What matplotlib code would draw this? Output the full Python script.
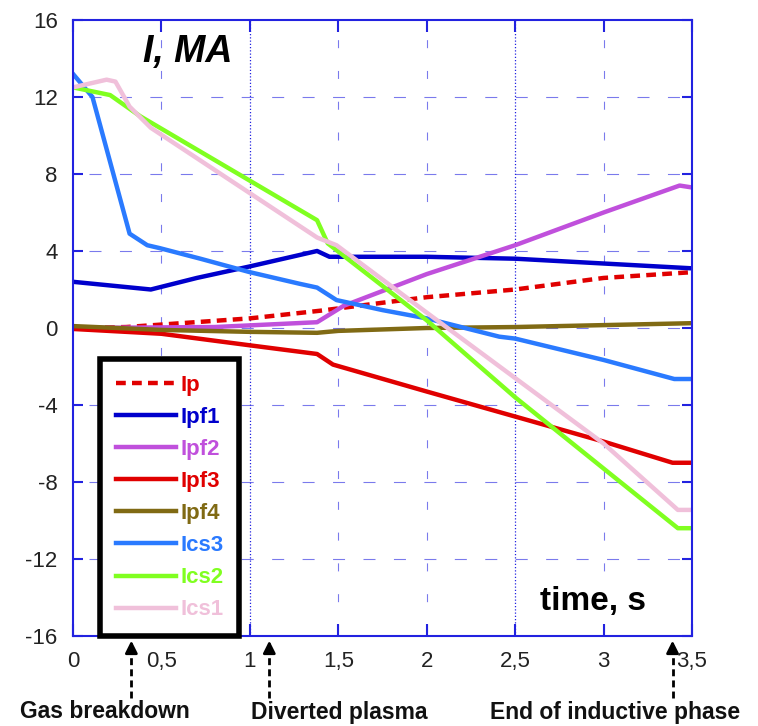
import matplotlib
matplotlib.use("Agg")
import matplotlib.pyplot as plt

plt.rcParams['font.family'] = ['Liberation Sans', 'DejaVu Sans']

# ---- data ----
t_ip = [0, 0.3, 1.0, 1.4, 1.74, 2.0, 2.5, 3.0, 3.5]
ip = [0, 0.05, 0.5, 0.9, 1.3, 1.6, 2.0, 2.6, 2.9]

t_pf1 = [0, 0.44, 0.7, 1.0, 1.38, 1.45, 2.0, 2.5, 3.0, 3.5]
ipf1 = [2.4, 2.0, 2.6, 3.2, 4.0, 3.7, 3.7, 3.6, 3.35, 3.1]

t_pf2 = [0, 0.8, 1.38, 1.53, 2.0, 2.5, 3.0, 3.43, 3.5]
ipf2 = [0, 0.05, 0.3, 1.15, 2.8, 4.3, 6.0, 7.4, 7.3]

t_pf3 = [0, 0.5, 1.0, 1.38, 1.47, 2.0, 2.5, 3.0, 3.39, 3.5]
ipf3 = [-0.05, -0.3, -0.9, -1.35, -1.9, -3.3, -4.6, -5.9, -7.0, -7.0]

t_pf4 = [0, 0.5, 1.0, 1.38, 1.5, 2.0, 2.5, 3.0, 3.5]
ipf4 = [0.1, -0.1, -0.2, -0.25, -0.15, 0.0, 0.05, 0.15, 0.25]

t_cs3 = [0, 0.11, 0.32, 0.42, 0.49, 0.72, 1.0, 1.28, 1.38, 1.49, 1.75, 2.0, 2.41, 2.5, 3.0, 3.4, 3.5]
ics3 = [13.2, 12.0, 4.9, 4.3, 4.15, 3.6, 2.9, 2.3, 2.1, 1.45, 0.93, 0.5, -0.45, -0.55, -1.66, -2.65, -2.65]

t_cs2 = [0, 0.21, 0.38, 1.38, 1.44, 2.0, 2.5, 3.0, 3.42, 3.5]
ics2 = [12.5, 12.1, 11.0, 5.6, 4.4, 0.4, -3.6, -7.3, -10.4, -10.4]

t_cs1 = [0, 0.19, 0.24, 0.32, 0.44, 1.38, 1.49, 2.0, 2.5, 3.0, 3.42, 3.5]
ics1 = [12.5, 12.9, 12.8, 11.5, 10.4, 4.7, 4.3, 0.8, -2.6, -6.0, -9.45, -9.45]

xticks = [0, 0.5, 1, 1.5, 2, 2.5, 3, 3.5]
xlabels = ["0", "0,5", "1", "1,5", "2", "2,5", "3", "3,5"]
yticks = [16, 12, 8, 4, 0, -4, -8, -12, -16]
ylabels = ["16", "12", "8", "4", "0", "-4", "-8", "-12", "-16"]

events = ["Gas breakdown", "Diverted plasma", "End of inductive phase"]
event_t = [0.33, 1.11, 3.39]
event_text_x = [105, 339, 615]   # px centre of the labels

blue = '#2222e0'

fig = plt.figure(figsize=(7.58, 7.26), dpi=100)
ax = fig.add_axes([73/758, 90/726, 619/758, 616/726])

# grid: two full dotted verticals, the rest short dotted dashes
for xv in [1, 2.5]:
    ax.axvline(xv, color=blue, lw=0.9, ls=(0, (1, 1.6)), zorder=0)
for xv in [0.5, 1.5, 2, 3]:
    ax.axvline(xv, color=blue, lw=0.8, ls=(24.5, (7.2, 20.5)), alpha=0.6, zorder=0)
for yv in [12, 8, 4, 0, -4, -8, -12]:
    ax.axhline(yv, color=blue, lw=0.8, ls=(13, (10.8, 16.6)), alpha=0.6, zorder=0)

lw = 3.2
ax.plot(t_ip, ip, color='#e00000', lw=lw, ls=(0, (2.2, 1.4)), label='Ip')
ax.plot(t_pf1, ipf1, color='#0000cc', lw=lw, label='Ipf1')
ax.plot(t_pf2, ipf2, color='#c050dc', lw=lw, label='Ipf2')
ax.plot(t_pf3, ipf3, color='#e00000', lw=lw, label='Ipf3')
ax.plot(t_pf4, ipf4, color='#806a14', lw=lw, label='Ipf4')
ax.plot(t_cs3, ics3, color='#2a7aff', lw=lw, label='Ics3')
ax.plot(t_cs2, ics2, color='#80ff20', lw=lw, label='Ics2')
ax.plot(t_cs1, ics1, color='#f0c0da', lw=lw, label='Ics1')

ax.set_xlim(0, 3.5)
ax.set_ylim(-16, 16)
ax.set_xticks(xticks)
ax.set_xticklabels(xlabels)
ax.set_yticks(yticks)
ax.set_yticklabels(ylabels)
ax.tick_params(axis='both', direction='in', color=blue, width=1.5,
               labelsize=16, labelcolor='#222222', pad=11)
ax.tick_params(axis='x', length=8.5, top=True)
ax.tick_params(axis='y', length=7, right=True)
for s in ax.spines.values():
    s.set_color(blue)
    s.set_linewidth(1.5)

leg = ax.legend(loc='lower left', bbox_to_anchor=(0.044, 0.0), borderaxespad=0,
                fancybox=False, framealpha=1, edgecolor='black',
                prop={'weight': 'bold', 'size': 16}, labelcolor='linecolor',
                handlelength=2.7, handletextpad=0.2, labelspacing=0.5,
                borderpad=0.7)
leg.get_frame().set_linewidth(4)

ax.text(0.113, 0.932, "I, MA", transform=ax.transAxes, fontsize=27,
        fontweight='bold', fontstyle='italic', va='baseline')
ax.text(0.754, 0.042, "time, s", transform=ax.transAxes, fontsize=24,
        fontweight='bold', va='baseline')

# event markers below the axis
trans = ax.get_xaxis_transform()
for name, tv, tx in zip(events, event_t, event_text_x):
    ax.plot([tv, tv], [-0.1, -0.02], color='black', lw=2, ls=(0, (2.5, 1.5)),
            transform=trans, clip_on=False)
    ax.annotate('', xy=(tv, -0.003), xytext=(tv, -0.03), xycoords=trans,
                textcoords=trans,
                arrowprops=dict(arrowstyle='-|>', color='black', lw=2,
                                mutation_scale=18))
    fig.text(tx/758, 1 - 712/726, name, ha='center', va='center',
             fontsize=16.5, fontweight='bold', color='#111111')

fig.savefig("out.png", dpi=100, facecolor='white')
